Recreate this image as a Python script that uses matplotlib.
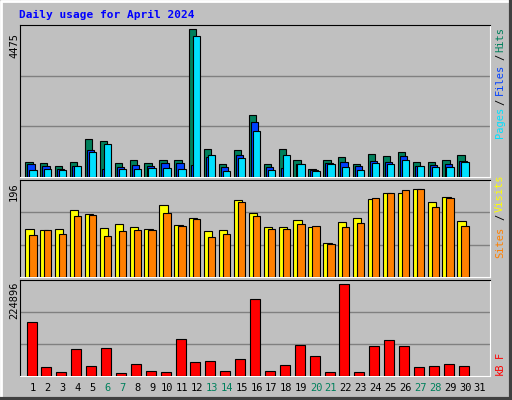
import matplotlib
matplotlib.use('Agg')
import matplotlib.pyplot as plt
import numpy as np

days = list(range(1, 32))
weekends = [6, 7, 13, 14, 20, 21, 27, 28]

# values (30 days of data, day 31 empty)
hits = [466, 435, 324, 466, 1164, 1103, 435, 526, 435, 526, 526, 4475, 860, 405, 830, 1893,
        405, 860, 526, 253, 526, 617, 405, 708, 647, 769, 466, 466, 526, 678]
files = [405, 344, 253, 344, 830, 253, 314, 374, 344, 435, 435, 374, 617, 314, 678, 1670,
         314, 283, 405, 223, 435, 466, 344, 496, 466, 647, 344, 374, 405, 496]
pages = [223, 253, 223, 344, 769, 1012, 253, 253, 283, 283, 253, 4270, 678, 192, 587, 1407,
         223, 678, 405, 192, 405, 314, 223, 435, 405, 526, 344, 314, 314, 466]
sites = [98, 94, 96, 136, 128, 100, 108, 102, 96, 145, 106, 120, 92, 94, 155, 130,
         102, 102, 116, 102, 68, 112, 120, 157, 169, 169, 177, 151, 161, 114]
visits = [84, 94, 86, 124, 126, 82, 92, 94, 94, 130, 104, 118, 80, 86, 151, 124,
          98, 96, 108, 104, 66, 102, 110, 159, 169, 175, 177, 142, 159, 104]
kbytes = [125780, 22010, 10220, 62100, 24370, 64460, 7860, 29080, 12580, 10220, 85870, 33800,
          36160, 12580, 40870, 179270, 12580, 26720, 71530, 47960, 10220, 215620, 10220, 69170,
          83320, 69170, 22010, 24370, 29080, 24370]
top_hits, top_sites, top_kb = 4475, 196, 224896

BG = '#C0C0C0'
W, H = 512, 400
fig = plt.figure(figsize=(W / 100, H / 100), dpi=100, facecolor=BG)
mono = 'DejaVu Sans Mono'

# bevelled border
bord = fig.add_axes([0, 0, 1, 1])
bord.set_xlim(0, W); bord.set_ylim(H, 0); bord.axis('off')
bord.plot([1, 1, W - 1], [H - 1, 1, 1], color='white', lw=2)
bord.plot([1, W - 1, W - 1], [H - 1, H - 1, 1], color='#404040', lw=3)
bord.text(19, 15, 'Daily usage for April 2024', color='#0000FF', fontsize=8,
          fontweight='bold', family=mono, va='center')


def panel(y0, y1):
    ax = fig.add_axes([20 / W, 1 - y1 / H, 470 / W, (y1 - y0) / H])
    ax.set_facecolor(BG)
    ax.set_xlim(0.13, 31.67)
    ax.set_xticks([]); ax.set_yticks([])
    for s in ax.spines.values():
        s.set_color('black')
    ax.spines['right'].set_color('white'); ax.spines['bottom'].set_color('white')
    return ax


d = np.array(days[:30])
ek = dict(edgecolor='black', linewidth=0.8, zorder=3)

ax1 = panel(25, 177)
ax1.set_ylim(0, top_hits * 1.03)
for g in (1, 2):
    ax1.axhline(top_hits * 1.03 * g / 3, color='#808080', lw=1, zorder=1)
ax1.bar(d - 0.52, hits, 0.49, align='edge', color='#00805C', **ek)
ax1.bar(d - 0.38, files, 0.49, align='edge', color='#0040FF', **ek)
ax1.bar(d - 0.25, pages, 0.49, align='edge', color='#00E0FF', **ek)

ax2 = panel(180, 277)
ax2.set_ylim(0, top_sites)
for g in (1, 2):
    ax2.axhline(top_sites * g / 3, color='#808080', lw=1, zorder=1)
ax2.bar(d - 0.52, sites, 0.56, align='edge', color='#FFFF00', **ek)
ax2.bar(d - 0.25, visits, 0.49, align='edge', color='#FF8000', **ek)

ax3 = panel(280, 376)
ax3.set_ylim(0, top_kb)
for g in (1, 2):
    ax3.axhline(top_kb * g / 3, color='#808080', lw=1, zorder=1)
ax3.bar(d - 0.43, kbytes, 0.67, align='edge', color='#FF0000', **ek)

for day in days:
    ax3.text(day, -0.13, str(day), transform=ax3.get_xaxis_transform(), ha='center',
             va='center', fontsize=7.5, family=mono,
             color='#00805C' if day in weekends else 'black')

# left value labels
for txt, y in [('4475', 45), ('196', 192), ('224896', 300)]:
    bord.text(14, y, txt, rotation=90, ha='center', va='center', fontsize=7.5, family=mono)

# right legend labels
right = [('Hits', 40, '#00805C'), ('/', 57, 'black'), ('Files', 79, '#0040FF'),
         ('/', 102, 'black'), ('Pages', 122, '#00E0FF'),
         ('Visits', 193, '#FFFF00'), ('/', 217, 'black'), ('Sites', 242, '#FF8000'),
         ('F', 355, '#FF0000'), ('kB', 369, '#FF0000')]
for txt, y, c in right:
    bord.text(500, y, txt, rotation=90, ha='center', va='center', fontsize=7.5,
              family=mono, color=c)

fig.savefig('out.png', dpi=100, facecolor=BG)
